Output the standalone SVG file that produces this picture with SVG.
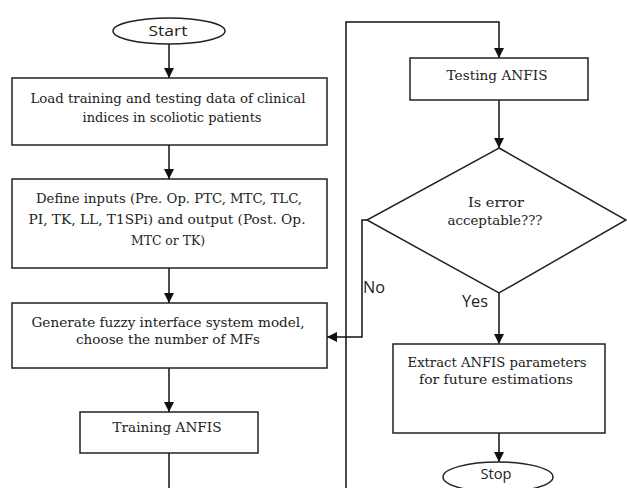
<svg xmlns="http://www.w3.org/2000/svg" width="627" height="488" viewBox="0 0 627 488">
<style>
.box{fill:#fff;stroke:#222;stroke-width:1.5}
.ln{fill:none;stroke:#111;stroke-width:1.5}
.t{font-family:"DejaVu Serif","Liberation Serif",serif;font-size:13px;fill:#222;text-anchor:middle}
.s{font-family:"Open Sans","Liberation Sans",sans-serif;font-size:15px;fill:#222;text-anchor:middle}
.lb{font-family:"Open Sans","Liberation Sans",sans-serif;font-size:16px;fill:#222}
</style>
<defs>
<marker id="ah" viewBox="0 0 10 10" refX="10" refY="5" markerWidth="10" markerHeight="10" markerUnits="userSpaceOnUse" orient="auto">
<path d="M0,0 L10,5 L0,10 z" fill="#111"/>
</marker>
</defs>
<rect width="627" height="488" fill="#fff"/>
<g id="connectors">
<line class="ln" x1="169" y1="44" x2="169" y2="78" marker-end="url(#ah)"/>
<line class="ln" x1="169" y1="145" x2="169" y2="179" marker-end="url(#ah)"/>
<line class="ln" x1="169" y1="268" x2="169" y2="303" marker-end="url(#ah)"/>
<line class="ln" x1="169" y1="368" x2="169" y2="412" marker-end="url(#ah)"/>
<polyline class="ln" points="169,453 169,490"/>
<polyline class="ln" points="346,490 346,22 499,22 499,58" marker-end="url(#ah)"/>
<line class="ln" x1="499" y1="100" x2="499" y2="148" marker-end="url(#ah)"/>
<polyline class="ln" points="367,220 362,220 362,337 327,337" marker-end="url(#ah)"/>
<line class="ln" x1="499" y1="293" x2="499" y2="344" marker-end="url(#ah)"/>
<line class="ln" x1="499" y1="433" x2="499" y2="462" marker-end="url(#ah)"/>
<text class="lb" x="363" y="293" textLength="22" lengthAdjust="spacingAndGlyphs">No</text>
<text class="lb" x="462" y="307" textLength="26" lengthAdjust="spacingAndGlyphs">Yes</text>
</g>
<g id="start">
<ellipse class="box" cx="169" cy="31" rx="56" ry="13"/>
<text class="s" x="168" y="36" textLength="39" lengthAdjust="spacingAndGlyphs">Start</text>
</g>
<g id="load">
<rect class="box" x="12" y="78" width="315" height="67"/>
<text class="t" x="168" y="103" textLength="275" lengthAdjust="spacingAndGlyphs">Load training and testing data of clinical</text>
<text class="t" x="172" y="122" textLength="179" lengthAdjust="spacingAndGlyphs">indices in scoliotic patients</text>
</g>
<g id="define">
<rect class="box" x="12" y="179" width="315" height="89"/>
<text class="t" x="169" y="203" textLength="266" lengthAdjust="spacingAndGlyphs">Define inputs (Pre. Op. PTC, MTC, TLC,</text>
<text class="t" x="167" y="224" textLength="277" lengthAdjust="spacingAndGlyphs">PI, TK, LL, T1SPi) and output (Post. Op.</text>
<text class="t" x="168" y="245" style="font-size:12px" textLength="74" lengthAdjust="spacingAndGlyphs">MTC or TK)</text>
</g>
<g id="generate">
<rect class="box" x="12" y="303" width="315" height="65"/>
<text class="t" x="168" y="327" textLength="273" lengthAdjust="spacingAndGlyphs">Generate fuzzy interface system model,</text>
<text class="t" x="168" y="344" textLength="184" lengthAdjust="spacingAndGlyphs">choose the number of MFs</text>
</g>
<g id="training">
<rect class="box" x="80" y="412" width="178" height="41"/>
<text class="t" x="167" y="432" textLength="109" lengthAdjust="spacingAndGlyphs">Training ANFIS</text>
</g>
<g id="testing">
<rect class="box" x="410" y="58" width="178" height="42"/>
<text class="t" x="497" y="80" textLength="101" lengthAdjust="spacingAndGlyphs">Testing ANFIS</text>
</g>
<g id="decision">
<polygon class="box" points="499,148 626,220 499,293 367,220"/>
<text class="t" x="496" y="207" textLength="56" lengthAdjust="spacingAndGlyphs">Is error</text>
<text class="t" x="495" y="225" textLength="95" lengthAdjust="spacingAndGlyphs">acceptable???</text>
</g>
<g id="extract">
<rect class="box" x="393" y="344" width="212" height="89"/>
<text class="t" x="497" y="367" textLength="179" lengthAdjust="spacingAndGlyphs">Extract ANFIS parameters</text>
<text class="t" x="496" y="384" textLength="154" lengthAdjust="spacingAndGlyphs">for future estimations</text>
</g>
<g id="stop">
<ellipse class="box" cx="498" cy="477" rx="55" ry="15"/>
<text class="s" x="496" y="479" textLength="31" lengthAdjust="spacingAndGlyphs">Stop</text>
</g>
</svg>
